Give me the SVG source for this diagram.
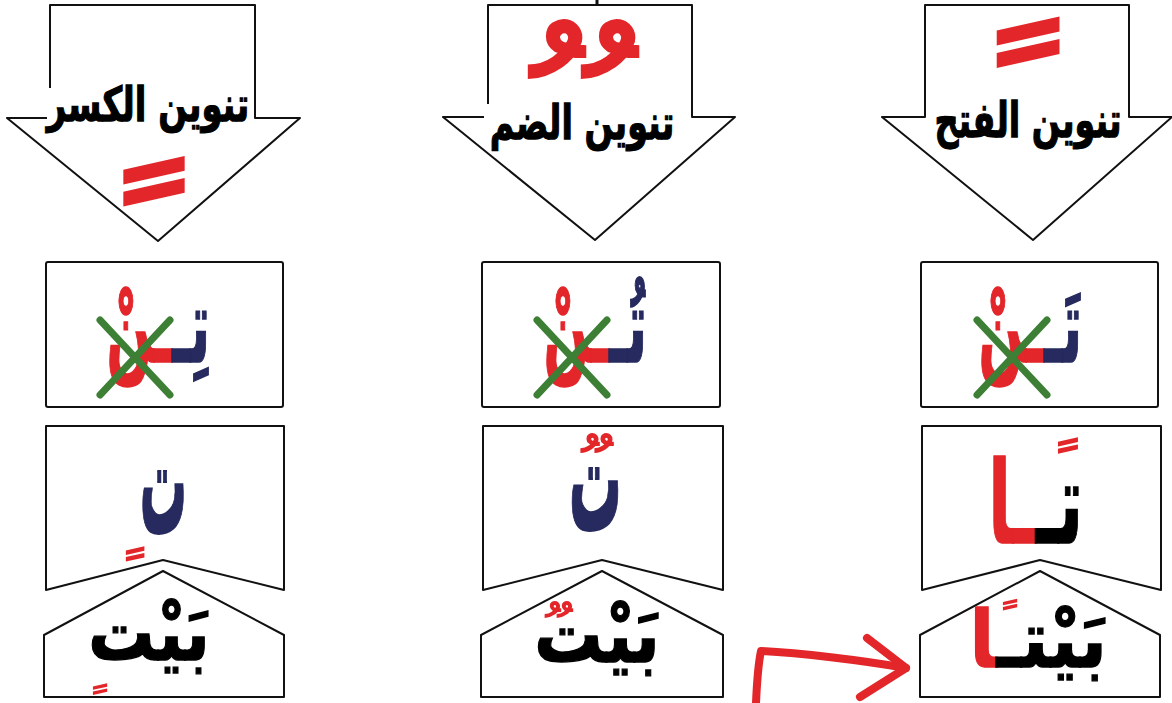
<svg xmlns="http://www.w3.org/2000/svg" width="1172" height="703" viewBox="0 0 1172 703">
<style>
.shape{fill:#fff;stroke:#111;stroke-width:2;stroke-linejoin:round}
.hdr{font-family:"DejaVu Sans",sans-serif;font-weight:bold;font-size:44px;fill:#000;stroke:#000;stroke-width:1.2;text-anchor:middle}
.ar{font-family:"DejaVu Sans",sans-serif;font-weight:bold;text-anchor:end;stroke-width:1.2}
.red{fill:#e3262a;stroke:#e3262a}
.navy{fill:#262a5e;stroke:#262a5e}
.blk{fill:#000;stroke:#000}
.x{stroke:#3d7f35;stroke-width:7;stroke-linecap:round}
.mark{font-family:"DejaVu Sans",sans-serif;font-weight:bold;fill:#e3262a;text-anchor:middle}
</style>
<rect width="1172" height="703" fill="#fff"/>

<g id="col1-arrow">
<polygon class="shape" points="50,5 255,5 255,118 300,118 158,241 7,118 50,118"/>
<rect x="47" y="88" width="201" height="44" fill="#fff"/>
<text class="hdr" transform="translate(148,121) scale(0.77,1.08)">تنوين الكسر</text>
<text class="mark" x="154" y="155" font-size="215">ﹴ</text>
</g>
<g id="col2-arrow">
<polygon class="shape" points="488,5 692,5 692,117 735,117 595,240 443,117 488,117"/>
<line x1="597" y1="0" x2="597" y2="6" stroke="#111" stroke-width="3"/>
<rect x="484" y="104" width="197" height="42" fill="#fff"/>
<text class="hdr" transform="translate(582,139) scale(0.76,1.08)">تنوين الضم</text>
<text class="mark" x="557 610" y="200" font-size="205">ﹸﹸ</text>
</g>
<g id="col3-arrow">
<polygon class="shape" points="925,5 1129,5 1129,117 1172,117 1033,240 882,117 925,117"/>
<rect x="928" y="100" width="198" height="46" fill="#fff"/>
<text class="hdr" transform="translate(1028,137) scale(0.76,1.1)">تنوين الفتح</text>
<text class="mark" x="1028" y="198" font-size="220">ﹰ</text>
</g>

<g id="col1-noon">
<rect class="shape" x="46" y="262" width="237" height="145" rx="2"/>
<text class="ar" transform="translate(210,362) scale(0.66,1.3)" font-size="80"><tspan class="navy">تِـ</tspan><tspan class="red">ـنْ</tspan></text>
<line class="x" x1="100" y1="320" x2="170" y2="395"/>
<line class="x" x1="100" y1="395" x2="170" y2="320"/>
</g>
<g id="col2-noon">
<rect class="shape" x="482" y="262" width="238" height="145" rx="2"/>
<text class="ar" transform="translate(647,362) scale(0.66,1.3)" font-size="80"><tspan class="navy">تُـ</tspan><tspan class="red">ـنْ</tspan></text>
<line class="x" x1="537" y1="320" x2="607" y2="395"/>
<line class="x" x1="537" y1="395" x2="607" y2="320"/>
</g>
<g id="col3-noon">
<rect class="shape" x="921" y="262" width="237" height="145" rx="2"/>
<text class="ar" transform="translate(1082,362) scale(0.66,1.3)" font-size="80"><tspan class="navy">تَـ</tspan><tspan class="red">ـنْ</tspan></text>
<line class="x" x1="977" y1="320" x2="1047" y2="395"/>
<line class="x" x1="977" y1="395" x2="1047" y2="320"/>
</g>

<g id="col1-letter">
<path class="shape" d="M46,426 H284 V590 L163,560 L46,590 Z"/>
<text class="ar navy" transform="translate(187,533) scale(0.47,1.5)" font-size="100">ت</text>
<text class="mark" x="135" y="546" font-size="65">ﹴ</text>
</g>
<g id="col2-letter">
<path class="shape" d="M483,426 H723 V590 L602,560 L483,590 Z"/>
<text class="ar navy" transform="translate(622,530) scale(0.53,1.5)" font-size="100">ت</text>
<text class="mark" x="590 604" y="493" font-size="68">ﹸﹸ</text>
</g>
<g id="col3-letter">
<path class="shape" d="M922,426 H1161 V590 L1040,560 L922,590 Z"/>
<text class="ar" transform="translate(1083,543) scale(0.66,1.15)" font-size="100"><tspan class="blk">تـ</tspan><tspan class="red">ـا</tspan></text>
<text class="mark" x="1068" y="495" font-size="70">ﹰ</text>
</g>

<g id="col1-word">
<path class="shape" d="M44,697 V635 L163,571 L284,635 V697 Z"/>
<text class="ar blk" transform="translate(210,660) scale(0.92,1.1)" font-size="72">بَيْت</text>
<text class="mark" x="100" y="683" font-size="50">ﹴ</text>
</g>
<g id="col2-word">
<path class="shape" d="M481,697 V635 L602,571 L723,635 V697 Z"/>
<text class="ar blk" transform="translate(660,662) scale(0.95,1.1)" font-size="72">بَيْت</text>
<text class="mark" x="553 565" y="652" font-size="58">ﹸﹸ</text>
</g>
<g id="col3-word">
<path class="shape" d="M920,697 V635 L1040,571 L1160,635 V697 Z"/>
<text class="ar" transform="translate(1107,667) scale(1,1.1)" font-size="72"><tspan class="blk">بَيْتـ</tspan><tspan class="red">&#x200D;ا</tspan></text>
<text class="mark" x="1010" y="640" font-size="50">ﹰ</text>
</g>

<g id="connectors" fill="none" stroke="#e3262a" stroke-width="8" stroke-linecap="round" stroke-linejoin="round">
<path d="M756,703 C757,680 758,665 761,651 C800,653 860,660 906,668"/>
<path d="M867,638 L906,668 L860,697"/>
</g>
</svg>
